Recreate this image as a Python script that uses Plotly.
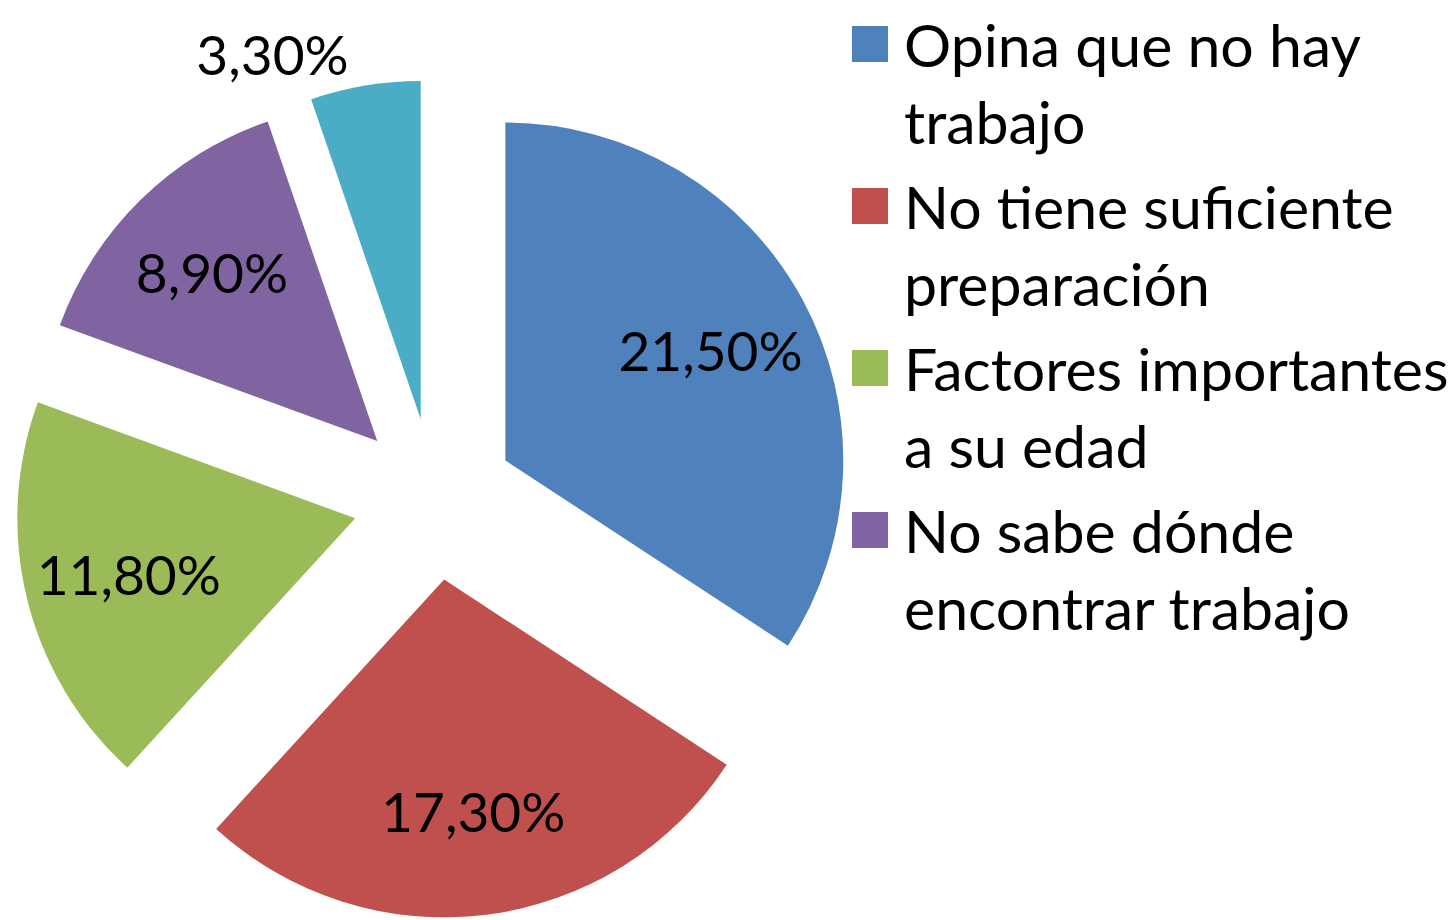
import plotly.graph_objects as go

# ---- data ----
categories = [
    "Opina que no hay trabajo",
    "No tiene suficiente preparación",
    "Factores importantes a su edad",
    "No sabe dónde encontrar trabajo",
    "Otros",
]
legend_names = [
    "Opina que no hay<br>trabajo",
    "No tiene suficiente<br>preparación",
    "Factores importantes<br>a su edad",
    "No sabe dónde<br>encontrar trabajo",
]
values = [21.5, 17.3, 11.8, 8.9, 3.3]
value_labels = ["21,50%", "17,30%", "11,80%", "8,90%", "3,30%"]
colors = ["#4F81BD", "#C0504D", "#9BBB59", "#8064A2", "#4BACC6"]

W, H = 1456, 920
FONT = "Lato"
PULL = [0.24] * len(values)
DOMAIN = dict(x=[7 / W, 845 / W], y=[9 / H, 849 / H])

fig = go.Figure()
# coloured slices
fig.add_trace(go.Pie(
    labels=categories,
    values=values,
    textinfo="none",
    marker=dict(colors=colors, line=dict(width=0)),
    pull=PULL,
    sort=False,
    direction="clockwise",
    rotation=0,
    showlegend=False,
    hoverinfo="label+percent",
    domain=DOMAIN,
))
# same pie, transparent, carrying the data labels (ring keeps labels further out)
fig.add_trace(go.Pie(
    labels=categories,
    values=values,
    text=value_labels,
    textinfo="text",
    textposition=["inside", "inside", "inside", "inside", "outside"],
    insidetextorientation="horizontal",
    textfont=dict(family=FONT, size=55, color="black"),
    marker=dict(colors=["rgba(0,0,0,0)"] * len(values), line=dict(width=0)),
    hole=0.38,
    pull=PULL,
    sort=False,
    direction="clockwise",
    rotation=0,
    showlegend=False,
    hoverinfo="skip",
    domain=DOMAIN,
))

# ---- legend (first four categories, as in the original) ----
sw_x0, sw_x1 = 844, 880
text_x = 894
first_center = 75
step = 162
for i, name in enumerate(legend_names):
    cy = first_center + i * step
    line1 = cy - 39
    fig.add_shape(
        type="rect", xref="paper", yref="paper",
        x0=sw_x0 / W, x1=sw_x1 / W,
        y0=1 - (line1 - 18) / H, y1=1 - (line1 + 18) / H,
        fillcolor=colors[i], line=dict(width=0),
    )
    fig.add_annotation(
        xref="paper", yref="paper",
        x=text_x / W, y=1 - cy / H,
        xanchor="left", yanchor="middle", align="left",
        text=name, showarrow=False,
        font=dict(family=FONT, size=59, color="black"),
    )

fig.update_layout(
    width=W, height=H,
    margin=dict(l=0, r=0, t=0, b=0, autoexpand=False),
    paper_bgcolor="white",
    plot_bgcolor="white",
)

fig.write_html("out.html")
